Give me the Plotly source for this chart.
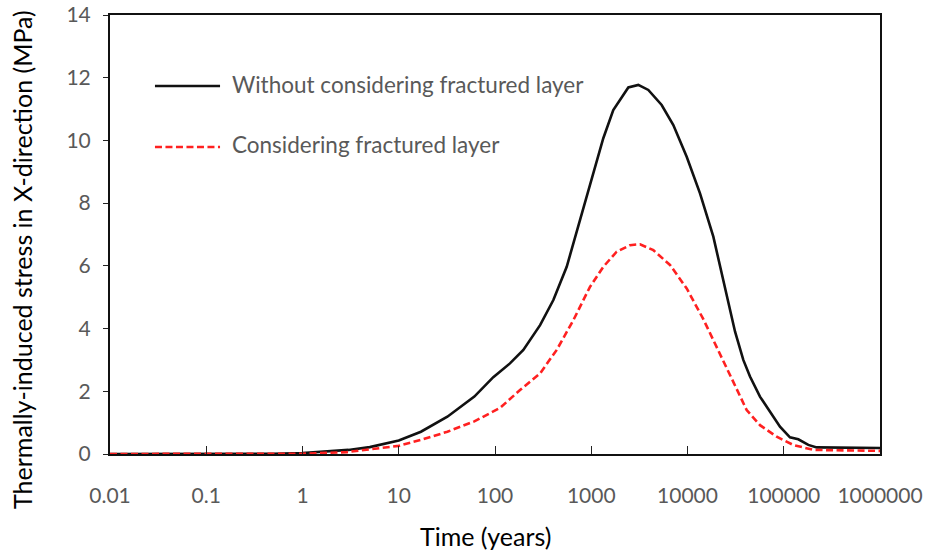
import plotly.graph_objects as go

# ---- data ----
time_without = [0.01, 0.1, 0.5, 1, 2, 3, 5, 7, 10, 17, 32, 61, 96, 143, 197, 294, 404, 556, 734,
                970, 1334, 1694, 2427, 3083, 3917, 5391, 7125, 9810, 13490, 18550, 25530, 31200,
                38000, 44600, 56600, 71900, 91400, 116000, 141700, 180000, 220000, 1000000]
stress_without = [0, 0, 0.01, 0.03, 0.08, 0.13, 0.22, 0.32, 0.43, 0.71, 1.19, 1.83, 2.45, 2.89,
                  3.32, 4.11, 4.91, 5.97, 7.25, 8.52, 10.07, 10.97, 11.69, 11.77, 11.61, 11.13,
                  10.49, 9.48, 8.31, 6.93, 5.1, 3.9, 3.0, 2.47, 1.83, 1.35, 0.87, 0.53, 0.47,
                  0.29, 0.21, 0.19]

time_with = [0.01, 0.1, 1, 2.9, 6.5, 10, 17, 32, 61, 113, 182, 294, 438, 652, 970, 1334, 1836,
             2529, 3212, 4418, 6580, 9810, 14600, 21800, 29900, 35100, 41200, 56600, 84500,
             125000, 203000, 1000000]
stress_with = [0, 0, 0.01, 0.06, 0.18, 0.26, 0.45, 0.71, 1.04, 1.47, 2.04, 2.57, 3.32, 4.27,
               5.33, 5.97, 6.45, 6.66, 6.69, 6.5, 6.03, 5.28, 4.3, 3.15, 2.3, 1.85, 1.4, 0.92,
               0.55, 0.29, 0.13, 0.1]

x_tickvals = [0.01, 0.1, 1, 10, 100, 1000, 10000, 100000, 1000000]
x_ticktext = ["0.01", "0.1", "1", "10", "100", "1000", "10000", "100000", "1000000"]
y_tickvals = [0, 2, 4, 6, 8, 10, 12, 14]

series_names = ["Without considering fractured layer", "Considering fractured layer"]

FONT = "Lato"
GRAY = "#595959"

fig = go.Figure()
fig.add_trace(go.Scatter(x=time_without, y=stress_without, mode="lines",
                         name=series_names[0],
                         line=dict(color="#111111", width=2.6)))
fig.add_trace(go.Scatter(x=time_with, y=stress_with, mode="lines",
                         name=series_names[1],
                         line=dict(color="#FF2020", width=2.6, dash="7px,3.5px")))

fig.update_layout(
    width=926, height=550, autosize=False,
    margin=dict(l=110, r=46, t=15, b=96, pad=0, autoexpand=False),
    paper_bgcolor="white", plot_bgcolor="white",
    showlegend=False,
    font=dict(family=FONT, color=GRAY, size=21),
)
fig.update_xaxes(
    type="log", range=[-2, 6], automargin=False,
    tickvals=x_tickvals, ticktext=x_ticktext,
    ticks="inside", ticklen=8, tickwidth=1.3, tickcolor="#222",
    showline=True, linecolor="#111", linewidth=2, mirror=True,
    showgrid=False, zeroline=False,
    tickfont=dict(family=FONT, size=21, color=GRAY),
    ticklabelstandoff=22,
)
fig.update_yaxes(
    range=[0, 14], tickvals=y_tickvals, automargin=False,
    ticks="outside", ticklen=5, tickwidth=1.3, tickcolor="#222",
    showline=True, linecolor="#111", linewidth=2, mirror=True,
    showgrid=False, zeroline=False,
    tickfont=dict(family=FONT, size=21, color=GRAY),
    ticklabelstandoff=8,
)

# legend drawn inside the plot
fig.add_shape(type="line", xref="paper", yref="paper", x0=0.0584, x1=0.1429, y0=0.8383, y1=0.8383,
              line=dict(color="#111111", width=2.6))
fig.add_shape(type="line", xref="paper", yref="paper", x0=0.0584, x1=0.1429, y0=0.6993, y1=0.6993,
              line=dict(color="#FF2020", width=2.6, dash="7px,3.5px"))
fig.add_annotation(xref="paper", yref="paper", x=0.1558, y=0.8428, xanchor="left", yanchor="middle",
                   text=series_names[0], showarrow=False, font=dict(family=FONT, size=22.5, color=GRAY))
fig.add_annotation(xref="paper", yref="paper", x=0.1558, y=0.7039, xanchor="left", yanchor="middle",
                   text=series_names[1], showarrow=False, font=dict(family=FONT, size=22.5, color=GRAY))

# axis titles
fig.add_annotation(xref="paper", yref="paper", x=-0.1143, y=0.4442, xanchor="center", yanchor="middle",
                   text="Thermally-induced stress in X-direction (MPa)", textangle=-90, showarrow=False,
                   font=dict(family=FONT, size=25, color="#000000"))
fig.add_annotation(xref="paper", yref="paper", x=0.4883, y=-0.1868, xanchor="center", yanchor="middle",
                   text="Time (years)", showarrow=False,
                   font=dict(family=FONT, size=25, color="#000000"))

fig.write_html("out.html")
